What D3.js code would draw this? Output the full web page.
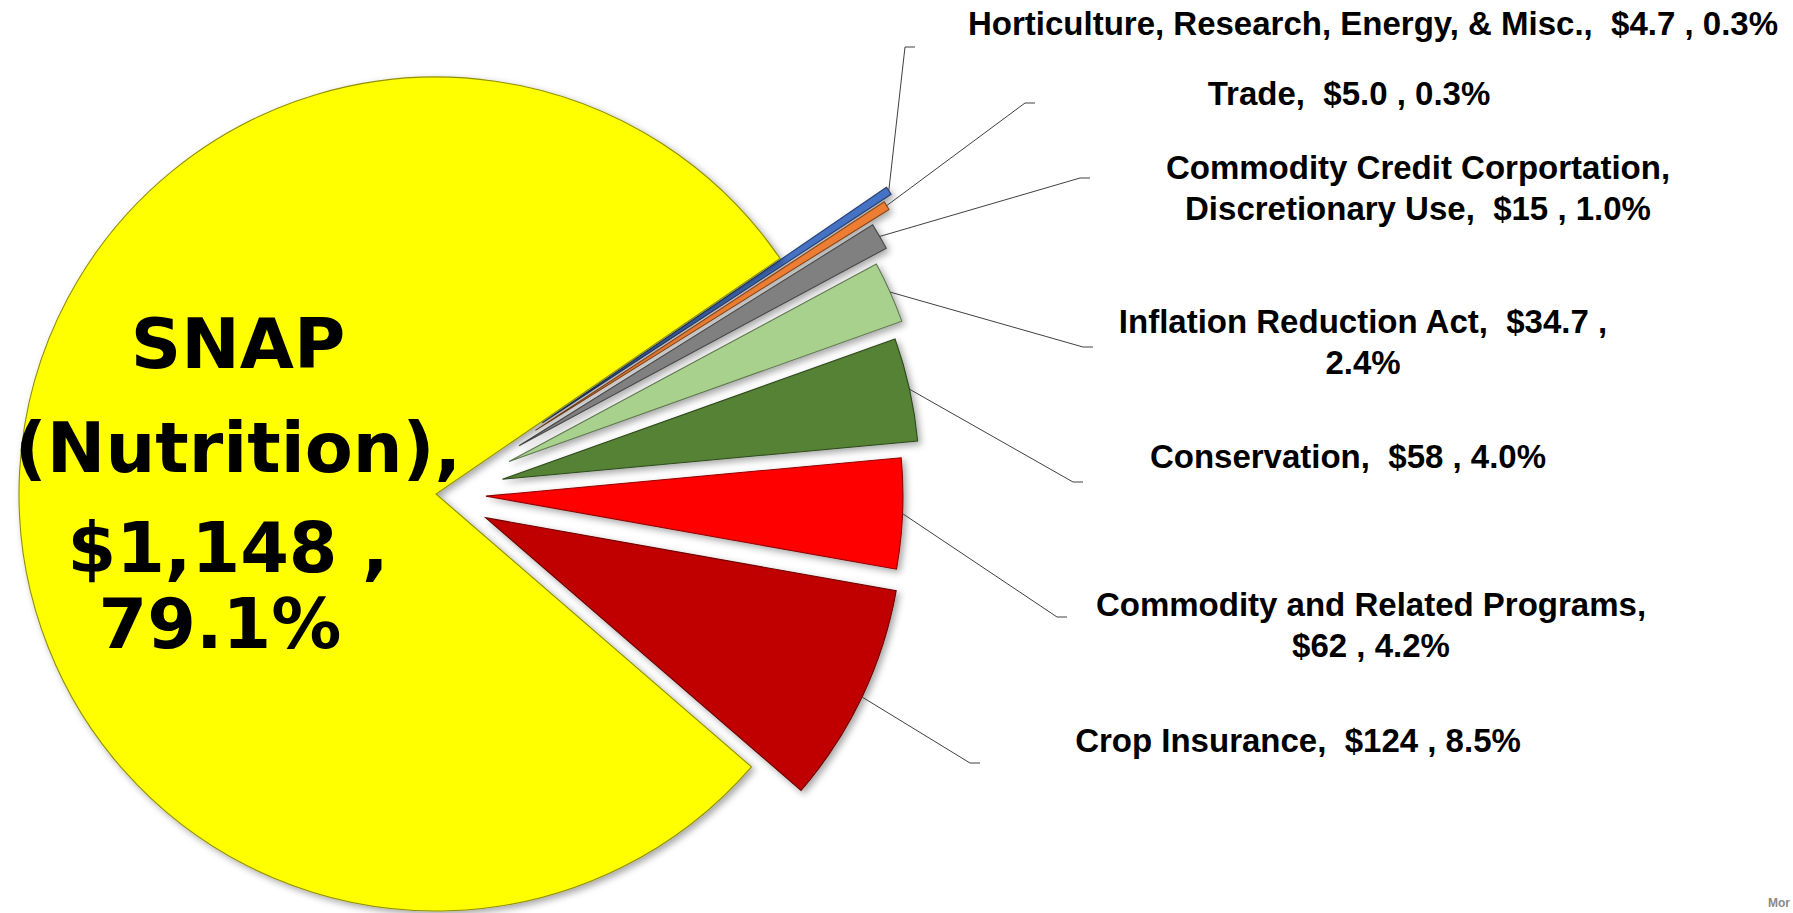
<!DOCTYPE html>
<html>
<head>
<meta charset="utf-8">
<script src="https://cdn.jsdelivr.net/npm/d3@7"></script>
<style>
    body { margin: 0; background: #ffffff; }
    svg { display: block; }
</style>
</head>
<body>
<div id="chart"></div>
<script>
// values in $ billions, clockwise from the top sliver
const categories = [
    'Horticulture, Research, Energy, & Misc.',
    'Trade',
    'Commodity Credit Corportation, Discretionary Use',
    'Inflation Reduction Act',
    'Conservation',
    'Commodity and Related Programs',
    'Crop Insurance',
    'SNAP (Nutrition)'
];
const amounts = [4.7, 5.0, 15, 34.7, 58, 62, 124, 1148];
const amountLabels = ['$4.7', '$5.0', '$15', '$34.7', '$58', '$62', '$124', '$1,148'];
const shareLabels = ['0.3%', '0.3%', '1.0%', '2.4%', '4.0%', '4.2%', '8.5%', '79.1%'];

// layout: explosion per slice, label anchor (centre x, first baseline), leader elbow
const colors = ['#4472C4', '#ED7D31', '#808080', '#A9D18E', '#548235', '#FF0000', '#C00000', '#FFFF00'];
const pull = [128, 118, 96, 80, 68, 50, 55, 0];
const labelAt = [[1373, 35], [1349, 105], [1418, 179], [1363, 333], [1348, 468], [1371, 616], [1298, 752], [238, 368]];
const elbowAt = [[905, 47], [1025, 103], [1080, 178], [1083, 347], [1073, 482], [1057, 617], [970, 763], null];
const breakAfter = [[], [], ['Corportation,'], ['$34.7 ,'], [], ['Programs,'], [], ['SNAP', '(Nutrition),', '$1,148 ,']];

function drawPie(chartId, width, height) {
    const center = [436, 494];
    const radius = 417;
    const start = (55.6 * Math.PI) / 180;

    d3.select(`#${chartId}`).selectAll('*').remove();

    const svg = d3.select(`#${chartId}`).append('svg').attr('width', width).attr('height', height);

    svg.append('rect').attr('width', width).attr('height', height).attr('fill', '#ffffff');

    svg.append('defs')
        .append('filter')
        .attr('id', 'shadow')
        .attr('x', '-10%')
        .attr('y', '-10%')
        .attr('width', '130%')
        .attr('height', '130%')
        .append('feDropShadow')
        .attr('dx', 3)
        .attr('dy', 3)
        .attr('stdDeviation', 3.5)
        .attr('flood-color', '#000')
        .attr('flood-opacity', 0.35);

    const data = categories.map((name, i) => ({
        name,
        amount: amounts[i],
        amountLabel: amountLabels[i],
        share: shareLabels[i],
        i
    }));

    const pie = d3.pie().sort(null).value((d) => d.amount).startAngle(start).endAngle(start + 2 * Math.PI);
    const arcs = pie(data);

    const arc = d3.arc().innerRadius(0).outerRadius(radius);
    const rim = d3.arc().innerRadius(radius).outerRadius(radius);

    const offset = (d) => {
        const mid = (d.startAngle + d.endAngle) / 2;
        const p = pull[d.data.i];
        return [center[0] + p * Math.sin(mid), center[1] - p * Math.cos(mid)];
    };

    const graph = svg.append('g').attr('class', 'pie');

    graph
        .selectAll('path')
        .data(arcs)
        .enter()
        .append('path')
        .attr('transform', (d) => `translate(${offset(d)})`)
        .attr('d', arc)
        .attr('fill', (d) => colors[d.data.i])
        .attr('stroke', (d) => d3.color(colors[d.data.i]).darker(1.6))
        .attr('stroke-width', 1.1)
        .attr('filter', 'url(#shadow)');

    // leader lines
    const leaders = arcs.filter((d) => elbowAt[d.data.i]);
    svg.append('g')
        .selectAll('polyline')
        .data(leaders)
        .enter()
        .append('polyline')
        .attr('points', (d) => {
            const o = offset(d);
            const r = rim.centroid(d);
            const e = elbowAt[d.data.i];
            return [[o[0] + r[0], o[1] + r[1]], e, [e[0] + 10, e[1]]].map((p) => p.join(',')).join(' ');
        })
        .attr('fill', 'none')
        .attr('stroke', '#404040')
        .attr('stroke-width', 1);

    // labels
    const splitLines = (d) => {
        let text = `${d.data.name},  ${d.data.amountLabel} , ${d.data.share}`;
        const lines = [];
        breakAfter[d.data.i].forEach((token) => {
            const k = text.indexOf(token) + token.length;
            lines.push(text.slice(0, k).trim());
            text = text.slice(k);
        });
        lines.push(text.trim());
        return lines;
    };

    // the big SNAP label sits a little unevenly in the original
    const snapLineY = [0, 104, 204, 280];
    const snapLineX = [0, 0, -10, -18];

    const labels = svg.append('g')
        .selectAll('text')
        .data(arcs)
        .enter()
        .append('text')
        .attr('text-anchor', 'middle')
        .attr('font-family', (d) => (d.data.i === 7 ? '"DejaVu Sans", sans-serif' : '"Liberation Sans", Arial, sans-serif'))
        .attr('font-weight', 'bold')
        .attr('font-size', (d) => (d.data.i === 7 ? 70 : 33))
        .attr('fill', '#000');

    labels
        .selectAll('tspan')
        .data((d) => splitLines(d).map((t) => ({ t, big: d.data.i === 7, at: labelAt[d.data.i] })))
        .enter()
        .append('tspan')
        .attr('x', (d, k) => d.at[0] + (d.big ? snapLineX[k] : 0))
        .attr('y', (d, k) => d.at[1] + (d.big ? snapLineY[k] : k * 41))
        .style('white-space', 'pre')
        .text((d) => d.t);

    svg.append('text')
        .attr('x', 1768)
        .attr('y', 907)
        .attr('font-family', '"Liberation Sans", Arial, sans-serif')
        .attr('font-weight', 'bold')
        .attr('font-size', 12)
        .attr('fill', '#8a8a8a')
        .text('Mor');
}

drawPie('chart', 1793, 913);
</script>
</body>
</html>
